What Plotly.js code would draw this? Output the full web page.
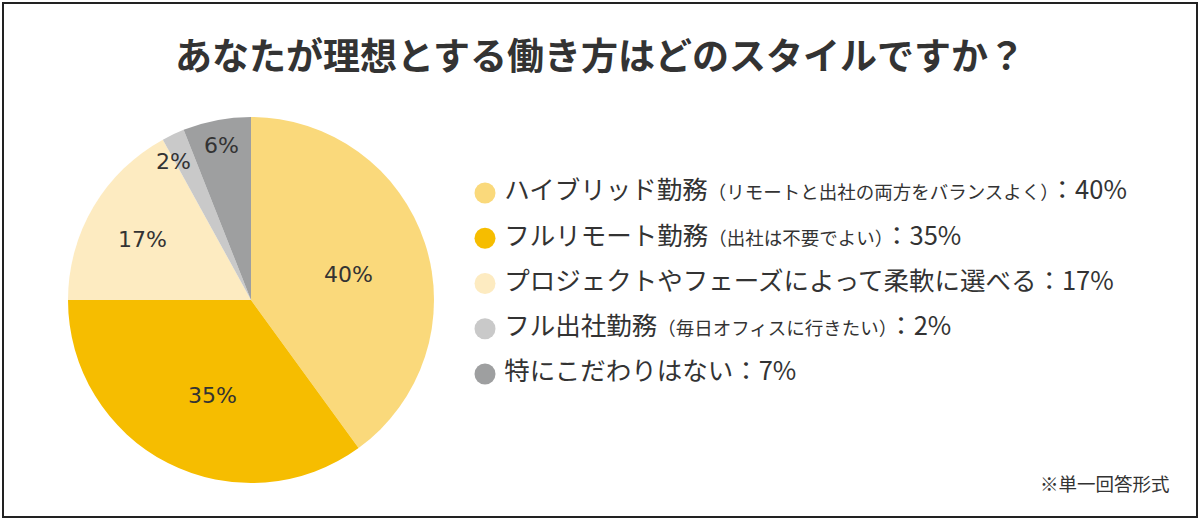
<!DOCTYPE html>
<html>
<head>
<meta charset="utf-8">
<script src="https://cdn.plot.ly/plotly-3.0.1.min.js"></script>
<style>
  html, body { margin: 0; padding: 0; background: #fff; }
  #wrap { position: relative; width: 1200px; height: 521px; }
  #chart { width: 1200px; height: 521px; }
  #frame { position: absolute; left: 2px; top: 2px; width: 1192px; height: 512px;
           border: 2.5px solid #222; pointer-events: none; }
</style>
</head>
<body>
<div id="wrap">
  <div id="chart"></div>
  <div id="frame"></div>
</div>
<script>
// ---- data ----
const categories = [
  'ハイブリッド勤務',
  'フルリモート勤務',
  'プロジェクトやフェーズによって柔軟に選べる',
  'フル出社勤務',
  '特にこだわりはない'
];
const notes = [
  '（リモートと出社の両方をバランスよく）',
  '（出社は不要でよい）',
  '',
  '（毎日オフィスに行きたい）',
  ''
];
const values = [40, 35, 17, 2, 6];
const pieLabels = ['40%', '35%', '17%', '2%', '6%'];
const legendPercents = ['40%', '35%', '17%', '2%', '7%'];
const colors = ['#FAD97B', '#F6BD00', '#FDEBC1', '#C9C9C9', '#9E9FA0'];

const titleText = 'あなたが理想とする働き方はどのスタイルですか？';
const footText = '※単一回答形式';

// ---- layout constants ----
const W = 1200, H = 521;
const cx = 251, cy = 300, R = 183;
const labelRadius = [0.55, 0.56, 0.68, 0.87, 0.86];
const labelAngleShift = [3.5, -5, -1.5, -4, 0]; // degrees
const textColor = '#333333';
const FONT = '"Noto Sans CJK JP", "Noto Sans", sans-serif';

// pie trace
const pie = {
  type: 'pie',
  values: values,
  labels: categories,
  sort: false,
  direction: 'clockwise',
  rotation: 0,
  marker: { colors: colors, line: { width: 0 } },
  textinfo: 'none',
  hoverinfo: 'skip',
  showlegend: false,
  domain: { x: [(cx - R) / W, (cx + R) / W], y: [(H - cy - R) / H, (H - cy + R) / H] }
};

// legend drawn as a scatter on hidden axes
const legendText = categories.map((c, i) =>
  '\u2009' + c + (notes[i] ? '<span style="font-size:18.5px">' + notes[i] + '</span>' : '') + '：' + legendPercents[i]);
const legendTrace = {
  type: 'scatter',
  mode: 'markers+text',
  x: categories.map(() => 0),
  y: categories,
  text: legendText,
  textposition: 'middle right',
  textfont: { family: FONT, size: 25.5, color: textColor },
  marker: { size: 21, color: colors, line: { width: 0 } },
  hoverinfo: 'skip',
  showlegend: false,
  cliponaxis: false,
  xaxis: 'x',
  yaxis: 'y'
};

// pie percentage labels computed from cumulative values
const total = values.reduce((a, b) => a + b, 0);
let cum = 0;
const annotations = values.map((v, i) => {
  const mid = (cum + v / 2) / total * 2 * Math.PI + labelAngleShift[i] * Math.PI / 180;
  cum += v;
  const r = labelRadius[i] * R;
  const px = cx + r * Math.sin(mid);
  const py = cy - r * Math.cos(mid);
  return {
    xref: 'paper', yref: 'paper', x: px / W, y: 1 - py / H,
    text: pieLabels[i], showarrow: false, xanchor: 'center', yanchor: 'middle',
    font: { family: '"DejaVu Sans", sans-serif', size: 22, color: textColor }
  };
});
annotations.push({
  xref: 'paper', yref: 'paper', x: 1172 / W, y: 1 - 483 / H,
  text: footText, showarrow: false, xanchor: 'right', yanchor: 'middle',
  font: { family: FONT, size: 18.5, color: textColor }
});

// legend row geometry: first row at 193px, step 45.25px
const rowTop = 193, rowStep = 45.25;
const yTop = -rowTop / rowStep;
const yBot = (H - rowTop) / rowStep;

const layout = {
  width: W, height: H,
  margin: { l: 0, r: 0, t: 0, b: 0 },
  paper_bgcolor: '#ffffff',
  plot_bgcolor: 'rgba(0,0,0,0)',
  title: {
    text: titleText,
    x: 0.5, xanchor: 'center', y: 1 - 57 / H, yanchor: 'middle',
    font: { family: FONT, size: 37, color: textColor, weight: 700 }
  },
  xaxis: { domain: [456 / W, 1], range: [-29, 715], visible: false, fixedrange: true },
  yaxis: { domain: [0, 1], type: 'category', range: [yBot, yTop], visible: false, fixedrange: true },
  annotations: annotations,
  showlegend: false
};

Plotly.newPlot('chart', [pie, legendTrace], layout, { displayModeBar: false, staticPlot: true });
</script>
</body>
</html>
